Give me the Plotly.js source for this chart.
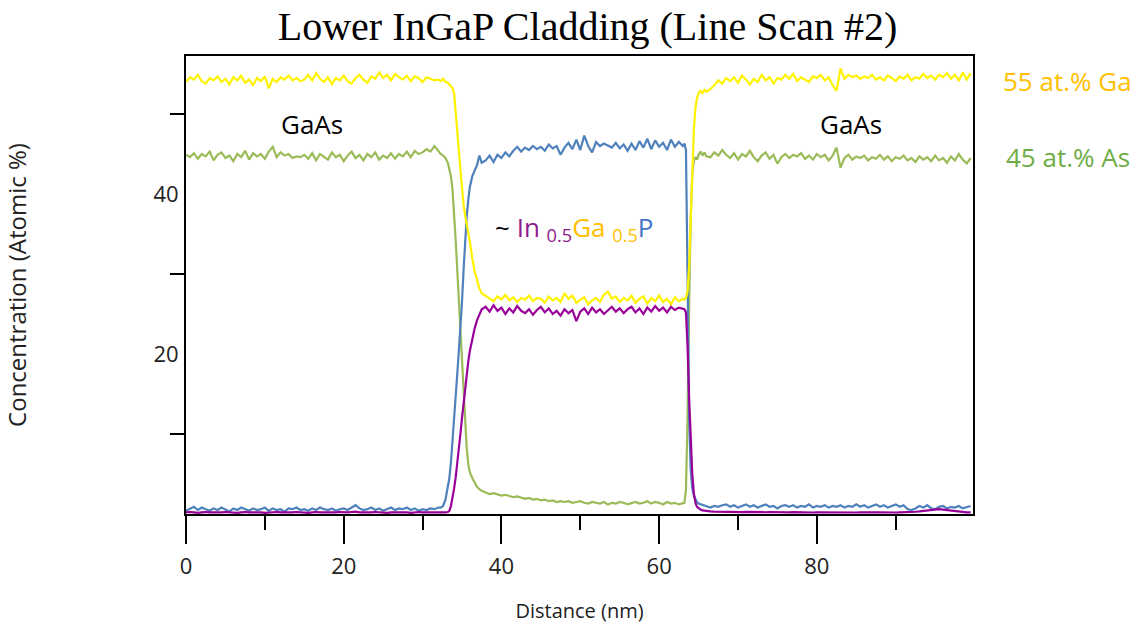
<!DOCTYPE html>
<html><head><meta charset="utf-8">
<script src="https://cdn.plot.ly/plotly-3.0.1.min.js"></script>
<style>html,body{margin:0;padding:0;background:#fff}#chart{width:1143px;height:630px}</style>
</head><body><div id="chart"></div>
<script>
// Distance (nm)
const distance = [
 0,0.5,1,1.5,2,2.5,3,3.5,4,4.5,5,5.5,6,6.5,7,7.5,8,8.5,9,9.5,10,10.5,11,11.5,12,12.5,13,13.5,14,14.5,15,15.5,16,16.5,17,17.5,18,18.5,19,19.5,20,20.5,21,21.5,22,22.5,23,23.5,24,24.5,25,25.5,26,26.5,27,27.5,28,28.5,29,29.5,30,30.5,31,31.5,32,
 32.3,32.6,32.9,33.2,33.4,33.6,33.8,34,34.2,34.4,34.6,34.8,35,35.2,35.4,35.6,35.8,36,36.3,36.6,36.9,37.2,37.5,
 38,38.5,39,39.5,40,40.5,41,41.5,42,42.5,43,43.5,44,44.5,45,45.5,46,46.5,47,47.5,48,48.5,49,49.5,50,50.5,51,51.5,52,52.5,53,53.5,54,54.5,55,55.5,56,56.5,57,57.5,58,58.5,59,59.5,60,60.5,61,61.5,62,62.5,63,
 63.2,63.4,63.6,63.8,64,64.2,64.4,64.6,64.8,65,65.25,65.5,65.75,66,
 66.5,67,67.5,68,68.5,69,69.5,70,70.5,71,71.5,72,72.5,73,73.5,74,74.5,75,75.5,76,76.5,77,77.5,78,78.5,79,79.5,80,80.5,81,81.5,82,82.5,83,83.5,84,84.5,85,85.5,86,86.5,87,87.5,88,88.5,89,89.5,90,90.5,91,91.5,92,92.5,93,93.5,94,94.5,95,95.5,96,96.5,97,97.5,98,98.5,99,99.5
];
// Ga (at.%)
const gallium = [
 54.0,54.6,54.3,54.9,54.1,53.8,54.5,54.2,54.7,54.0,
 54.4,53.7,54.6,54.2,54.8,53.9,54.3,53.6,54.5,54.1,
 54.7,53.2,54.4,54.0,54.6,54.3,54.8,54.2,54.5,54.1,
 54.3,54.9,54.2,55.1,54.4,54.0,54.6,53.7,54.5,54.2,
 54.8,54.1,53.8,54.5,54.9,54.3,53.9,54.7,54.4,55.2,
 54.5,54.9,54.2,55.0,54.6,54.3,54.8,54.1,54.7,54.5,
 54.0,54.6,54.4,54.2,54.3,
 54.1,54.4,54.0,53.9,53.7,53.5,53.2,52.6,50.5,47.8,45.4,43.0,40.4,38.6,37.3,36.2,35.3,34.0,32.0,30.3,29.3,28.2,27.6,
 27.3,27.0,26.6,27.2,26.8,27.4,26.7,27.1,26.5,27.0,
 26.8,27.3,26.6,27.0,26.9,26.4,27.2,26.7,27.0,26.5,
 27.6,26.9,27.3,26.4,26.8,27.1,26.2,26.7,27.0,26.5,
 27.4,27.8,26.9,27.2,26.5,27.0,26.7,27.3,26.4,26.9,
 27.2,26.3,27.0,26.6,27.3,26.5,26.9,26.2,27.1,26.6,26.9,
 26.8,27.0,27.8,31.0,37.0,43.0,48.0,50.8,52.0,52.6,52.9,52.6,53.0,52.8,
 53.1,53.6,54.2,53.8,54.5,54.1,54.6,53.9,54.8,54.3,
 53.7,54.4,54.0,54.9,54.2,54.6,53.8,54.5,54.3,54.9,
 54.4,55.0,54.1,54.6,54.3,54.0,54.7,54.5,54.9,54.2,
 54.6,53.6,52.9,55.7,54.4,54.9,54.6,54.8,54.4,54.7,
 54.5,54.9,54.3,54.6,54.2,54.8,54.5,54.1,54.7,54.4,
 54.9,54.2,54.6,54.4,55.0,54.5,54.8,54.3,54.9,54.6,
 55.1,54.4,54.9,54.2,55.2,54.3,55.1
];
// As (at.%)
const arsenic = [
 44.9,44.6,45.1,44.4,45.0,44.7,45.3,44.2,44.9,45.2,
 44.5,44.8,44.1,45.0,44.6,45.4,44.3,45.1,44.7,45.0,
 44.4,45.3,45.9,44.6,45.2,44.8,45.0,44.5,44.7,44.6,
 44.9,44.4,45.1,44.2,45.0,44.7,44.3,45.2,44.6,44.9,
 44.1,44.8,45.3,44.5,44.9,44.2,45.0,44.6,45.2,44.3,
 44.8,44.5,45.1,44.4,45.0,44.7,45.3,44.6,45.4,45.0,
 45.2,45.6,45.3,46.0,45.4,
 45.0,44.8,44.5,43.9,43.2,42.2,40.5,37.8,34.2,30.5,26.8,23.2,19.6,15.5,11.8,8.2,6.2,5.2,4.5,3.9,3.4,3.1,2.9,
 2.7,2.5,2.6,2.4,2.3,2.4,2.2,2.1,2.2,2.0,
 1.9,2.0,1.8,1.9,1.7,1.8,1.6,1.7,1.5,1.6,
 1.5,1.6,1.4,1.5,1.6,1.4,1.3,1.5,1.4,1.3,
 1.5,1.2,1.4,1.3,1.5,1.4,1.2,1.4,1.5,1.3,
 1.4,1.6,1.3,1.5,1.4,1.2,1.5,1.3,1.4,1.2,1.3,
 1.4,3.0,12.0,26.0,37.0,42.5,44.2,44.6,44.3,44.9,45.3,44.8,45.2,44.7,
 44.6,45.2,44.8,45.5,44.9,44.5,45.1,44.3,45.0,44.7,
 45.4,44.6,44.1,44.8,45.2,44.4,44.9,43.8,44.6,45.0,
 44.5,44.9,44.7,45.1,44.4,44.8,44.3,45.0,44.6,44.9,
 44.2,44.8,45.8,43.3,44.5,44.9,44.3,44.7,44.5,44.8,
 44.2,44.6,44.4,44.9,44.3,44.7,44.1,44.6,44.4,44.8,
 44.2,44.5,44.0,44.7,44.3,44.6,44.1,44.8,44.2,44.5,
 43.9,44.7,44.2,45.0,44.3,43.8,44.5
];
// P (at.%)
const phosphorus = [
 0.4,0.6,0.9,0.5,0.8,0.6,0.4,0.7,0.5,0.8,
 0.6,0.3,0.7,0.5,0.8,0.6,0.4,0.7,0.5,0.6,
 0.8,0.4,0.7,0.5,0.6,0.3,0.7,0.6,0.8,0.5,
 0.6,0.4,0.7,0.5,0.8,0.6,0.5,0.7,0.4,0.6,
 0.7,0.5,0.8,1.1,0.7,0.5,0.6,0.8,0.5,0.7,
 0.4,0.6,0.8,0.5,0.7,0.6,0.8,0.5,0.7,0.4,
 0.6,0.5,0.7,0.6,0.8,
 0.8,1.0,1.8,3.2,4.5,6.5,9.0,11.8,14.6,17.5,20.4,23.2,26.5,30.5,34.2,37.2,39.3,40.9,42.2,43.0,43.6,44.8,43.9,
 44.2,44.8,44.0,44.9,44.5,45.2,44.7,45.4,45.9,45.3,
 45.8,45.5,46.0,45.6,45.9,45.4,46.2,45.7,46.0,44.9,
 45.8,46.4,45.6,46.8,45.5,47.3,46.0,45.2,46.5,46.0,
 46.3,46.1,45.8,46.4,45.7,46.2,45.4,46.3,45.5,46.6,
 45.8,46.9,45.6,46.7,45.9,46.4,45.5,46.8,45.9,46.5,46.0,
 46.3,45.5,30.0,12.0,5.5,3.2,2.3,1.8,1.5,1.3,1.2,1.1,1.0,0.9,
 0.8,1.0,0.9,1.1,1.2,0.9,1.1,0.8,1.0,1.2,
 0.9,1.1,0.8,1.0,1.2,0.9,1.0,0.7,1.0,1.1,
 0.9,1.1,0.8,1.0,0.9,1.2,0.8,1.0,0.9,1.1,
 0.8,1.0,0.9,1.1,0.8,1.0,0.9,1.2,0.9,1.1,
 0.8,1.0,1.2,0.9,1.1,0.8,1.0,1.2,0.9,1.1,
 0.6,0.5,0.7,1.0,0.8,1.1,0.7,0.6,0.9,1.0,
 0.7,0.9,0.8,1.0,0.7,0.9,1.0
];
// In (at.%)
const indium = [
 0.2,0.25,0.2,0.15,0.2,0.25,0.2,0.2,0.15,0.2,
 0.25,0.2,0.2,0.15,0.2,0.25,0.2,0.2,0.25,0.2,
 0.15,0.2,0.2,0.25,0.2,0.2,0.15,0.2,0.25,0.2,
 0.2,0.15,0.2,0.25,0.2,0.2,0.2,0.15,0.2,0.25,
 0.2,0.2,0.25,0.3,0.2,0.2,0.15,0.2,0.25,0.2,
 0.2,0.15,0.2,0.2,0.25,0.2,0.2,0.15,0.2,0.25,
 0.2,0.2,0.15,0.2,0.2,
 0.2,0.2,0.2,0.25,0.4,1.0,2.0,3.2,4.6,6.2,8.0,10.0,12.0,14.0,15.9,17.6,19.1,20.4,22.0,23.2,24.2,25.0,25.6,
 25.9,25.3,26.1,25.4,25.8,25.0,25.7,25.2,26.0,25.4,
 25.1,25.6,24.9,25.5,25.9,25.2,25.7,25.0,25.4,24.8,
 25.6,25.1,25.5,24.1,25.3,25.7,25.0,25.8,25.2,25.6,
 25.0,25.4,25.9,25.3,25.7,25.1,25.6,25.9,25.2,25.7,
 25.0,25.8,25.3,26.0,25.4,25.8,25.2,25.9,25.5,25.8,25.6,
 25.6,25.2,21.0,14.5,9.5,5.0,2.6,1.4,0.9,0.7,0.55,0.45,0.4,0.35,
 0.32,0.3,0.28,0.3,0.27,0.25,0.28,0.26,0.24,0.27,
 0.25,0.23,0.26,0.24,0.22,0.25,0.23,0.21,0.24,0.22,
 0.2,0.23,0.21,0.2,0.22,0.2,0.19,0.21,0.2,0.22,
 0.2,0.19,0.21,0.2,0.18,0.2,0.21,0.19,0.2,0.18,
 0.2,0.19,0.21,0.2,0.18,0.2,0.21,0.19,0.2,0.2,
 0.22,0.24,0.28,0.32,0.38,0.45,0.52,0.58,0.6,0.55,
 0.48,0.4,0.33,0.27,0.23,0.2,0.2
];

const xTickVals = [0, 20, 40, 60, 80];
const xTickText = ['0', '20', '40', '60', '80'];
const xMinorVals = [10, 30, 50, 70, 90];
const yTickVals = [20, 40];
const yTickText = ['20', '40'];
const yMinorVals = [10, 30, 50];

const mk = (y, color, name) => ({
  x: distance, y: y, type: 'scatter', mode: 'lines', name: name,
  line: {color: color, width: 2.2}, hoverinfo: 'skip'
});

const data = [
  mk(arsenic, '#9BBB59', 'As'),
  mk(phosphorus, '#4F81BD', 'P'),
  mk(gallium, '#FFF200', 'Ga'),
  mk(indium, '#990099', 'In')
];

const SANS = 'Open Sans, sans-serif';
const tickFont = {family: SANS, size: 22, color: '#222'};
const layout = {
  width: 1143, height: 630,
  margin: {l: 186, r: 170, t: 56, b: 116},
  paper_bgcolor: '#fff', plot_bgcolor: '#fff',
  showlegend: false,
  title: {text: 'Lower InGaP Cladding (Line Scan #2)', x: 0.514, xanchor: 'center', y: 0.958, yanchor: 'middle',
          font: {family: 'Liberation Serif, serif', size: 40, color: '#000'}},
  xaxis: {
    range: [0, 99.8], tickvals: xTickVals, ticktext: xTickText,
    ticks: 'outside', ticklen: 28, tickwidth: 2, tickcolor: '#000',
    minor: {tickvals: xMinorVals, ticks: 'outside', ticklen: 14, tickwidth: 2, tickcolor: '#000'},
    showline: true, linewidth: 2, linecolor: '#000', mirror: true,
    showgrid: false, zeroline: false, tickfont: tickFont, ticklabelstandoff: 4,
    title: {text: 'Distance (nm)', font: {family: SANS, size: 20, color: '#222'}, standoff: 25}
  },
  yaxis: {
    range: [0, 57.25], tickvals: yTickVals, ticktext: yTickText,
    ticks: 'outside', ticklen: 0, tickwidth: 2, tickcolor: '#000',
    minor: {tickvals: yMinorVals, ticks: 'outside', ticklen: 14, tickwidth: 2, tickcolor: '#000'},
    showline: true, linewidth: 2, linecolor: '#000', mirror: true,
    showgrid: false, zeroline: false, tickfont: tickFont, ticklabelstandoff: 1,
    title: {text: 'Concentration (Atomic %)', font: {family: SANS, size: 24, color: '#222'}, standoff: 120}
  },
  annotations: [
    {x: 16.0, y: 48.75, xref: 'x', yref: 'y', xanchor: 'center', yanchor: 'middle', text: 'GaAs', showarrow: false,
     font: {family: SANS, size: 26, color: '#000'}},
    {x: 84.3, y: 48.75, xref: 'x', yref: 'y', xanchor: 'center', yanchor: 'middle', text: 'GaAs', showarrow: false,
     font: {family: SANS, size: 26, color: '#000'}},
    {x: 1.1207, y: 54.1, xref: 'paper', yref: 'y', xanchor: 'center', yanchor: 'middle', text: '55 at.% Ga', showarrow: false,
     font: {family: SANS, size: 26, color: '#FFC000'}},
    {x: 1.1207, y: 44.6, xref: 'paper', yref: 'y', xanchor: 'center', yanchor: 'middle', text: '45 at.% As', showarrow: false,
     font: {family: SANS, size: 26, color: '#70AD47'}},
    {x: 49.3, y: 35.7, xref: 'x', yref: 'y', xanchor: 'center', yanchor: 'middle', showarrow: false,
     text: '<span style="color:#000">~ </span><span style="color:#8E1B8E">In <sub>0.5</sub></span><span style="color:#FFC000">Ga <sub>0.5</sub></span><span style="color:#4472C4">P</span>',
     font: {family: SANS, size: 26, color: '#000'}}
  ]
};

Plotly.newPlot('chart', data, layout, {displayModeBar: false, staticPlot: true});
</script>
</body></html>
